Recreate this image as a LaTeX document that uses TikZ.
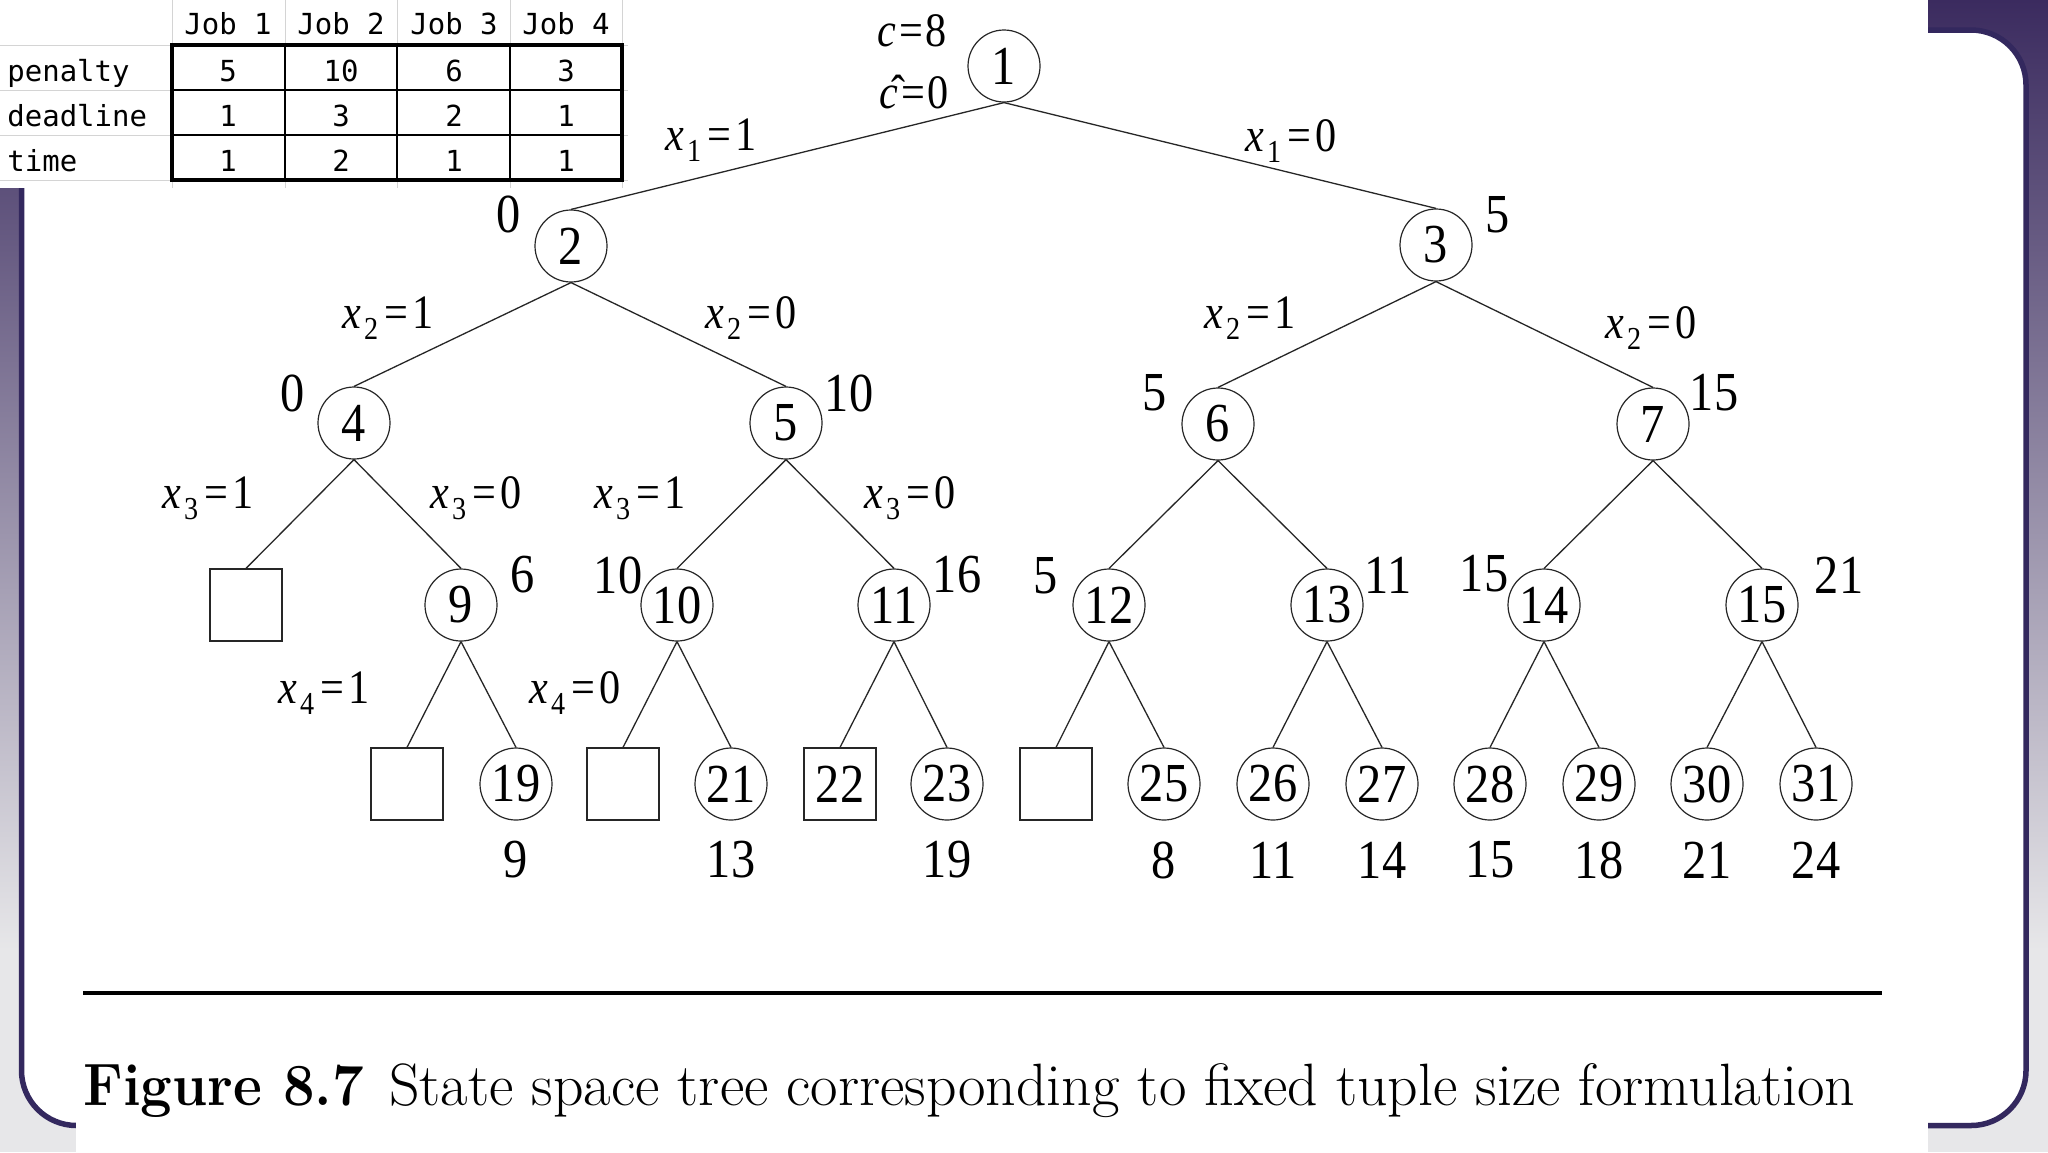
\documentclass[tikz,border=0pt]{standalone}
\usepackage{fontspec}
\usepackage{graphicx}
\newfontfamily\treefont[FakeStretch=0.88]{Liberation Serif}
\newfontfamily\tblfont{DejaVu Sans Mono}
\definecolor{bgtop}{HTML}{3B2B5F}
\definecolor{bgbot}{HTML}{E7E7E9}
\definecolor{panelborder}{HTML}{33285E}
\definecolor{gridgray}{HTML}{D4D4D4}
\newcommand{\xv}[2]{\textit{x}\hspace{0.06em}\raisebox{-0.5ex}{\fontsize{16}{17}\selectfont #1}\hspace{0.14em}=\hspace{0.08em}#2}
\tikzset{
  st/.style={circle, draw=black!85, line width=0.6pt, minimum size=36pt, inner sep=0pt, font=\treefont\fontsize{27.5}{29}\selectfont},
  dead/.style={rectangle, draw=black!85, line width=0.6pt, minimum size=36pt, inner sep=0pt, font=\treefont\fontsize{27.5}{29}\selectfont},
  br/.style={draw=black!85, line width=0.65pt},
  lab/.style={inner sep=0pt, font=\treefont\fontsize{24}{26}\selectfont},
  cost/.style={inner sep=0pt, font=\treefont\fontsize{27.5}{29}\selectfont},
  tbl/.style={inner sep=0pt, font=\tblfont\fontsize{14.5}{16}\selectfont},
  gridln/.style={draw=gridgray, line width=0.5pt},
  tblin/.style={draw=black, line width=1pt},
}
\begin{document}
\begin{tikzpicture}[x=0.5pt, y=-0.5pt]
\useasboundingbox (0,0) rectangle (2048,1152);
% background
\shade[top color=bgtop, bottom color=bgbot] (0,0) rectangle (2048,950);
\fill[bgbot] (0,949) rectangle (2048,1152);
% panel
\draw[panelborder, line width=2.75pt, fill=white, rounded corners=27.5pt] (21.5,30) rectangle (2026,1125.5);
% figure sheet
\fill[white] (76,0) rectangle (1928,1152);

% ---------- table ----------
\fill[white] (0,0) rectangle (628,188);
\foreach \gx in {172,285,397,510,622} \draw[gridln] (\gx,0) -- (\gx,188);
\foreach \gy in {45,90,135,180} \draw[gridln] (0,\gy) -- (628,\gy);
\foreach \gx in {285,397,510} \draw[tblin] (\gx,45) -- (\gx,180);
\foreach \gy in {90,135} \draw[tblin] (172,\gy) -- (622,\gy);
\draw[black, line width=1.6pt] (172,45) rectangle (622,180);
\node[tbl, anchor=base] (h1) at (228,34) {Job 1};
\node[tbl, anchor=base] (h2) at (341,34) {Job 2};
\node[tbl, anchor=base] (h3) at (454,34) {Job 3};
\node[tbl, anchor=base] (h4) at (566,34) {Job 4};
\node[tbl, anchor=base west] (r1) at (7,81) {penalty};
\node[tbl, anchor=base west] (r2) at (7,126) {deadline};
\node[tbl, anchor=base west] (r3) at (7,171) {time};
\node[tbl, anchor=base] (p1) at (228,81) {5};
\node[tbl, anchor=base] (p2) at (341,81) {10};
\node[tbl, anchor=base] (p3) at (454,81) {6};
\node[tbl, anchor=base] (p4) at (566,81) {3};
\node[tbl, anchor=base] (d1) at (228,126) {1};
\node[tbl, anchor=base] (d2) at (341,126) {3};
\node[tbl, anchor=base] (d3) at (454,126) {2};
\node[tbl, anchor=base] (d4) at (566,126) {1};
\node[tbl, anchor=base] (t1) at (228,171) {1};
\node[tbl, anchor=base] (t2) at (341,171) {2};
\node[tbl, anchor=base] (t3) at (454,171) {1};
\node[tbl, anchor=base] (t4) at (566,171) {1};

% ---------- tree nodes ----------
\node[st] (n1) at (1004,66) {1};
\node[st] (n2) at (571,246) {2};
\node[st] (n3) at (1436,245) {3};
\node[st] (n4) at (354,423) {4};
\node[st] (n5) at (786,423) {5};
\node[st] (n6) at (1218,424) {6};
\node[st] (n7) at (1653,424) {7};
\node[dead] (s8) at (246,605) {};
\node[st] (n9) at (461,605) {9};
\node[st] (n10) at (677,605) {10};
\node[st] (n11) at (894,605) {11};
\node[st] (n12) at (1109,605) {12};
\node[st] (n13) at (1327,605) {13};
\node[st] (n14) at (1544,605) {14};
\node[st] (n15) at (1762,605) {15};
\node[dead] (s18) at (407,784) {};
\node[st] (n19) at (516,784) {19};
\node[dead] (s20) at (623,784) {};
\node[st] (n21) at (731,784) {21};
\node[dead] (s22) at (840,784) {22};
\node[st] (n23) at (947,784) {23};
\node[dead] (s24) at (1056,784) {};
\node[st] (n25) at (1164,784) {25};
\node[st] (n26) at (1273,784) {26};
\node[st] (n27) at (1382,784) {27};
\node[st] (n28) at (1490,784) {28};
\node[st] (n29) at (1599,784) {29};
\node[st] (n30) at (1707,784) {30};
\node[st] (n31) at (1816,784) {31};

% ---------- branches ----------
\draw[br] (n1.south) -- (n2.north);
\draw[br] (n1.south) -- (n3.north);
\draw[br] (n2.south) -- (n4.north);
\draw[br] (n2.south) -- (n5.north);
\draw[br] (n3.south) -- (n6.north);
\draw[br] (n3.south) -- (n7.north);
\draw[br] (n4.south) -- (s8.north);
\draw[br] (n4.south) -- (n9.north);
\draw[br] (n5.south) -- (n10.north);
\draw[br] (n5.south) -- (n11.north);
\draw[br] (n6.south) -- (n12.north);
\draw[br] (n6.south) -- (n13.north);
\draw[br] (n7.south) -- (n14.north);
\draw[br] (n7.south) -- (n15.north);
\draw[br] (n9.south) -- (s18.north);
\draw[br] (n9.south) -- (n19.north);
\draw[br] (n10.south) -- (s20.north);
\draw[br] (n10.south) -- (n21.north);
\draw[br] (n11.south) -- (s22.north);
\draw[br] (n11.south) -- (n23.north);
\draw[br] (n12.south) -- (s24.north);
\draw[br] (n12.south) -- (n25.north);
\draw[br] (n13.south) -- (n26.north);
\draw[br] (n13.south) -- (n27.north);
\draw[br] (n14.south) -- (n28.north);
\draw[br] (n14.south) -- (n29.north);
\draw[br] (n15.south) -- (n30.north);
\draw[br] (n15.south) -- (n31.north);

% ---------- root labels ----------
\node[lab, anchor=base] (cval) at (912,46) {\textit{c}\hspace{0.08em}=\hspace{0.04em}8};
\node[lab, anchor=base] (chat) at (914,108) {\^{\textit{c}}\hspace{0.08em}=\hspace{0.04em}0};

% ---------- edge labels ----------
\node[lab] (e12) at (711,140) {\xv{1}{1}};
\node[lab] (e13) at (1291,141) {\xv{1}{0}};
\node[lab] (e24) at (388,318) {\xv{2}{1}};
\node[lab] (e25) at (751,318) {\xv{2}{0}};
\node[lab] (e36) at (1250,318) {\xv{2}{1}};
\node[lab] (e37) at (1651,328) {\xv{2}{0}};
\node[lab] (e48) at (208,498) {\xv{3}{1}};
\node[lab] (e49) at (476,498) {\xv{3}{0}};
\node[lab] (e510) at (640,498) {\xv{3}{1}};
\node[lab] (e511) at (910,498) {\xv{3}{0}};
\node[lab] (e918) at (324,693) {\xv{4}{1}};
\node[lab] (e919) at (575,693) {\xv{4}{0}};

% ---------- cost labels ----------
\node[cost] (c2) at (509,214) {0};
\node[cost] (c3) at (1498,215) {5};
\node[cost] (c4) at (293,393) {0};
\node[cost] (c5) at (849,393) {10};
\node[cost] (c6) at (1155,393) {5};
\node[cost] (c7) at (1714,393) {15};
\node[cost] (c9) at (523,575) {6};
\node[cost] (c10) at (618,575) {10};
\node[cost] (c11) at (957,575) {16};
\node[cost] (c12) at (1046,576) {5};
\node[cost] (c13) at (1388,575) {11};
\node[cost] (c14) at (1484,574) {15};
\node[cost] (c15) at (1839,575) {21};
\node[cost] (b19) at (516,860) {9};
\node[cost] (b21) at (731,860) {13};
\node[cost] (b23) at (947,860) {19};
\node[cost] (b25) at (1164,860) {8};
\node[cost] (b26) at (1273,860) {11};
\node[cost] (b27) at (1382,860) {14};
\node[cost] (b28) at (1490,860) {15};
\node[cost] (b29) at (1599,860) {18};
\node[cost] (b30) at (1707,860) {21};
\node[cost] (b31) at (1816,860) {24};

% ---------- rule and caption ----------
\coordinate (rl) at (83,993);
\coordinate (rr) at (1882,993);
\draw[black, line width=2pt] (rl) -- (rr);
\node[anchor=base west, inner sep=0pt] (cap) at (83,1105) {\resizebox{886pt}{!}{\fontsize{23}{28}\selectfont\scalebox{0.94}[1]{\textbf{Figure 8.7}}\hspace{0.42em}State space tree corresponding to fixed tuple size formulation}};
\end{tikzpicture}
\end{document}
